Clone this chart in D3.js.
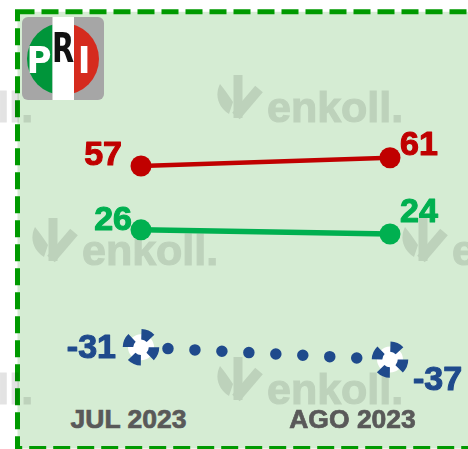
<!DOCTYPE html>
<html>
<head>
<meta charset="utf-8">
<script src="https://cdn.jsdelivr.net/npm/d3@7"></script>
<style>
  html, body { margin: 0; padding: 0; background: #ffffff; }
  svg { display: block; }
</style>
</head>
<body>
<div id="chart"></div>
<script>
// ---- data ----
const categories = ["JUL 2023", "AGO 2023"];
const seriesRed = [57, 61];
const seriesGreen = [26, 24];
const seriesBlue = [-31, -37];
const tickLabels = ["JUL 2023", "AGO 2023"];

const W = 468, H = 449;
const svg = d3.select("#chart").append("svg").attr("width", W).attr("height", H);

// frame
svg.append("rect").attr("x", 17.5).attr("y", 11.8).attr("width", 480).attr("height", 436.7)
  .attr("fill", "#d5ecd3").attr("stroke", "#009a00").attr("stroke-width", 5)
  .attr("stroke-dasharray", "17 7");

// scales
const x = d3.scalePoint().domain(categories).range([141, 390]);
const xLab = d3.scalePoint().domain(tickLabels).range([128, 352]);
const y = d3.scaleLinear().domain([-45, 70]).range([376.1, 139.2]);

const BF = "'Liberation Sans', Arial, sans-serif";

// watermarks
const wm = [[217, 122], [-153, 122], [32, 265], [402, 265], [217, 404], [-153, 404]];
const wg = svg.append("g").attr("opacity", 0.11);
wm.forEach(([wx, wy]) => {
  const g = wg.append("g").attr("transform", `translate(${wx},${wy})`);
  g.append("path").attr("d", "M3,-38 C-3,-26 2,-14 12,-8 L16,-20 C12,-26 8,-32 3,-38 Z").attr("fill", "#000");
  g.append("path").attr("d", "M21,-47 L21,-4").attr("fill", "none").attr("stroke", "#000").attr("stroke-width", 9);
  g.append("path").attr("d", "M19,-6 L42,-33").attr("fill", "none").attr("stroke", "#000").attr("stroke-width", 10);
  g.append("text").attr("x", 50).attr("y", 0).text("enkoll.")
    .attr("font-family", BF).attr("font-weight", "bold").attr("font-size", 43).attr("fill", "#000")
    .attr("stroke", "#000").attr("stroke-width", 1.2);
});

// PRI logo
const logo = svg.append("g");
const defs = svg.append("defs");
defs.append("clipPath").attr("id", "lc").append("rect").attr("x", 22).attr("y", 17).attr("width", 82).attr("height", 83).attr("rx", 6);
defs.append("clipPath").attr("id", "cc").append("circle").attr("cx", 63).attr("cy", 59).attr("r", 36);
logo.append("rect").attr("x", 22).attr("y", 17).attr("width", 82).attr("height", 83).attr("rx", 6).attr("fill", "#a6a6a6");
const lg = logo.append("g").attr("clip-path", "url(#lc)");
lg.append("rect").attr("x", 26).attr("y", 17).attr("width", 26.5).attr("height", 83).attr("fill", "#00953a").attr("clip-path", "url(#cc)");
lg.append("rect").attr("x", 74).attr("y", 17).attr("width", 27).attr("height", 83).attr("fill", "#d52b1e").attr("clip-path", "url(#cc)");
lg.append("rect").attr("x", 52.5).attr("y", 17).attr("width", 21.5).attr("height", 83).attr("fill", "#ffffff");
const lf = "'Liberation Sans Narrow', 'DejaVu Sans Condensed', sans-serif";
logo.append("text").attr("x", 39).attr("y", 73).attr("text-anchor", "middle").text("P")
  .attr("font-family", lf).attr("font-weight", "bold").attr("font-size", 38).attr("fill", "#fff");
logo.append("text").attr("x", 63).attr("y", 62).attr("text-anchor", "middle").text("R")
  .attr("font-family", lf).attr("font-weight", "bold").attr("font-size", 40).attr("fill", "#111")
  .attr("transform", "translate(63,62) scale(0.8,1) translate(-63,-62)");
logo.append("text").attr("x", 84).attr("y", 73).attr("text-anchor", "middle").text("I")
  .attr("font-family", lf).attr("font-weight", "bold").attr("font-size", 38).attr("fill", "#fff");

// lines
const line = d3.line().x((d, i) => x(categories[i])).y(d => y(d));
const RED = "#c00000", GREEN = "#00b050", BLUE = "#1f4a8c";

svg.append("path").datum(seriesRed).attr("d", line).attr("fill", "none").attr("stroke", RED).attr("stroke-width", 4.5);
svg.append("path").datum(seriesGreen).attr("d", line).attr("fill", "none").attr("stroke", GREEN).attr("stroke-width", 5.5);
svg.append("path").datum(seriesBlue).attr("d", line).attr("fill", "none").attr("stroke", BLUE)
  .attr("stroke-width", 11.5).attr("stroke-linecap", "round").attr("stroke-dasharray", "0 27");

// markers
svg.selectAll(".mr").data(seriesRed).join("circle").attr("cx", (d, i) => x(categories[i])).attr("cy", d => y(d)).attr("r", 10.5).attr("fill", RED);
svg.selectAll(".mg").data(seriesGreen).join("circle").attr("cx", (d, i) => x(categories[i])).attr("cy", d => y(d)).attr("r", 10.5).attr("fill", GREEN);
svg.selectAll(".mb").data(seriesBlue).join("circle").attr("cx", (d, i) => x(categories[i])).attr("cy", d => y(d)).attr("r", 13)
  .attr("fill", "#fff").attr("stroke", BLUE).attr("stroke-width", 10.5).attr("stroke-dasharray", "10.21 10.21");

// value labels
function labels(data, color, offs) {
  data.forEach((v, i) => {
    const o = offs[i];
    svg.append("text").attr("x", x(categories[i]) + o[0]).attr("y", y(v) + o[1])
      .attr("text-anchor", o[2]).text(v)
      .attr("font-family", BF).attr("font-weight", "bold").attr("font-size", 34).attr("fill", color)
      .attr("stroke", color).attr("stroke-width", 1.1).attr("stroke-linejoin", "round");
  });
}
labels(seriesRed, RED, [[-19, -1, "end"], [10, -3, "start"]]);
labels(seriesGreen, GREEN, [[-9, 0, "end"], [10, -12, "start"]]);
labels(seriesBlue, BLUE, [[-25, 11, "end"], [23, 30, "start"]]);

// category axis
const ax = svg.append("g").attr("transform", "translate(0,428)")
  .call(d3.axisBottom(xLab).tickSize(0).tickPadding(0));
ax.select(".domain").remove();
ax.selectAll("text").attr("dy", 0).attr("font-family", BF).attr("font-weight", "bold")
  .attr("font-size", 26.5).attr("fill", "#595959").attr("stroke", "#595959").attr("stroke-width", 0.7);
</script>
</body>
</html>
